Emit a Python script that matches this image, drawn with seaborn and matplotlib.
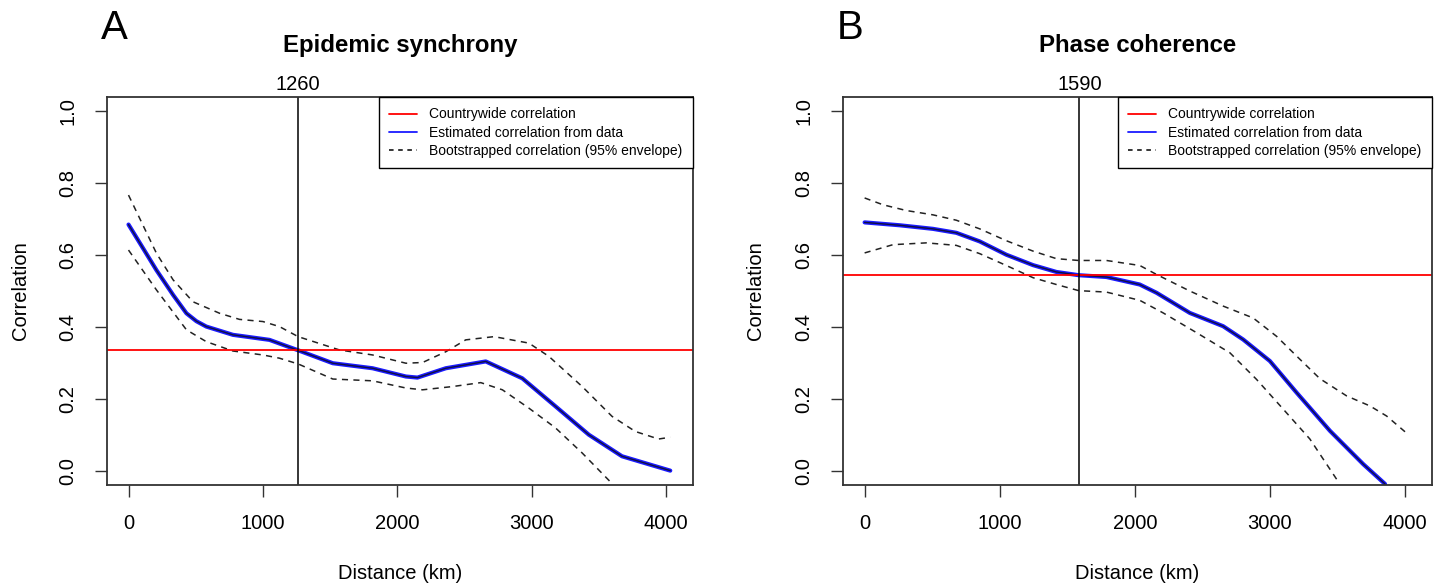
import pandas as pd
import seaborn as sns
import matplotlib
matplotlib.use('Agg')
import matplotlib.pyplot as plt
from matplotlib.lines import Line2D

# values
# Panel A - epidemic synchrony
a_est_x = [0, 208, 332, 431, 505, 579, 777, 1049, 1262, 1520, 1816, 2064, 2150, 2361, 2658, 2930, 3177, 3425,
           3672, 4031]
a_est_y = [0.685, 0.558, 0.489, 0.438, 0.416, 0.401, 0.378, 0.364, 0.335, 0.299, 0.285, 0.262, 0.259, 0.285,
           0.304, 0.257, 0.179, 0.100, 0.040, 0.0]
a_hi_x = [0, 208, 332, 480, 678, 826, 1000, 1123, 1262, 1569, 1816, 2064, 2188, 2361, 2509, 2720, 2979, 3128,
          3376, 3598, 3771, 3944, 4031]
a_hi_y = [0.767, 0.605, 0.531, 0.470, 0.438, 0.421, 0.415, 0.401, 0.373, 0.336, 0.322, 0.299, 0.301, 0.331,
          0.364, 0.373, 0.355, 0.318, 0.234, 0.151, 0.109, 0.088, 0.093]
a_lo_x = [0, 208, 431, 579, 777, 1000, 1123, 1262, 1520, 1816, 2064, 2188, 2410, 2621, 2782, 2979, 3177, 3376, 3598]
a_lo_y = [0.614, 0.503, 0.392, 0.359, 0.333, 0.322, 0.313, 0.297, 0.255, 0.250, 0.230, 0.225, 0.234, 0.245,
          0.225, 0.174, 0.119, 0.049, -0.036]
a_country = 0.335
a_cut = 1260

# Panel B - phase coherence
b_est_x = [0, 259, 506, 679, 852, 1049, 1247, 1420, 1585, 1790, 2037, 2161, 2407, 2654, 2802, 3000, 3198, 3444,
           3691, 3852]
b_est_y = [0.691, 0.683, 0.673, 0.662, 0.638, 0.601, 0.572, 0.553, 0.544, 0.539, 0.518, 0.495, 0.439, 0.402,
           0.365, 0.305, 0.217, 0.111, 0.018, -0.037]
b_hi_x = [0, 136, 309, 506, 679, 852, 1049, 1247, 1420, 1585, 1790, 2037, 2161, 2407, 2654, 2876, 3049, 3222,
          3370, 3568, 3741, 3864, 4007]
b_hi_y = [0.759, 0.740, 0.724, 0.712, 0.697, 0.673, 0.640, 0.611, 0.590, 0.585, 0.585, 0.571, 0.546, 0.500,
          0.458, 0.425, 0.374, 0.310, 0.256, 0.208, 0.180, 0.152, 0.106]
b_lo_x = [0, 210, 457, 679, 852, 1049, 1247, 1420, 1585, 1790, 2037, 2210, 2457, 2704, 2901, 3099, 3296, 3494]
b_lo_y = [0.606, 0.629, 0.634, 0.627, 0.604, 0.571, 0.537, 0.518, 0.501, 0.497, 0.474, 0.439, 0.384, 0.328,
          0.254, 0.171, 0.088, -0.024]
b_country = 0.544
b_cut = 1590

x_ticks = [0, 1000, 2000, 3000, 4000]
y_ticks = [0.0, 0.2, 0.4, 0.6, 0.8, 1.0]
legend_labels = ['Countrywide correlation', 'Estimated correlation from data',
                 'Bootstrapped correlation (95% envelope)']

sns.set_style('white')
plt.rcParams['font.family'] = ['Liberation Sans', 'DejaVu Sans']
plt.rcParams['text.color'] = 'black'
plt.rcParams['axes.labelcolor'] = 'black'
plt.rcParams['xtick.color'] = 'black'
plt.rcParams['ytick.color'] = 'black'

fig = plt.figure(figsize=(14.44, 5.84), dpi=100)
ax_a = fig.add_axes([0.0741, 0.1695, 0.4058, 0.6644])
ax_b = fig.add_axes([0.5838, 0.1695, 0.4079, 0.6644])

panels = [
    (ax_a, 'A', 'Epidemic synchrony', a_est_x, a_est_y, a_hi_x, a_hi_y, a_lo_x, a_lo_y, a_country, a_cut),
    (ax_b, 'B', 'Phase coherence', b_est_x, b_est_y, b_hi_x, b_hi_y, b_lo_x, b_lo_y, b_country, b_cut),
]

dash = (0, (4, 3.5))
edge = '#333333'

for ax, letter, title, ex, ey, hx, hy, lx, ly, country, cut in panels:
    est = pd.DataFrame({'Distance': ex, 'Correlation': ey})
    hi = pd.DataFrame({'Distance': hx, 'Correlation': hy})
    lo = pd.DataFrame({'Distance': lx, 'Correlation': ly})

    sns.lineplot(x='Distance', y='Correlation', data=hi, ax=ax, color='#222222', lw=1.1, linestyle=dash,
                 dash_joinstyle='round')
    sns.lineplot(x='Distance', y='Correlation', data=lo, ax=ax, color='#222222', lw=1.1, linestyle=dash,
                 dash_joinstyle='round')
    sns.lineplot(x='Distance', y='Correlation', data=est, ax=ax, color='#1a1aff', lw=3.0,
                 solid_joinstyle='round')
    sns.lineplot(x='Distance', y='Correlation', data=est, ax=ax, color='#101040', lw=1.0,
                 solid_joinstyle='round')
    ax.axhline(country, color='red', lw=1.3)
    ax.axvline(cut, color='black', lw=1.1)

    ax.set_xlim(-160, 4200)
    ax.set_ylim(-0.04, 1.04)
    ax.set_xticks(x_ticks)
    ax.set_xticklabels([str(t) for t in x_ticks])
    ax.set_yticks(y_ticks)
    ax.set_yticklabels(['%.1f' % t for t in y_ticks], rotation=90, va='center')
    ax.tick_params(axis='both', which='major', direction='out', length=8.6, width=1.0, color=edge,
                   labelsize=14.5, labelcolor='black', bottom=True, left=True, top=False, right=False)
    ax.tick_params(axis='x', pad=12)
    ax.tick_params(axis='y', pad=13)
    for s in ax.spines.values():
        s.set_color(edge)
        s.set_linewidth(1.3)

    ax.set_xlabel('Distance (km)', fontsize=14.5, va='center')
    ax.xaxis.set_label_coords(0.5, -0.227)
    ax.set_ylabel('Correlation', fontsize=14.5, va='center')
    ax.yaxis.set_label_coords(-0.148, 0.5)

    ax.text(0.5, 1.134, title, transform=ax.transAxes, ha='center', va='center',
            fontsize=17.3, fontweight='bold')
    ax.text(-0.01, 1.178, letter, transform=ax.transAxes, ha='left', va='center', fontsize=29)
    ax.text(cut, 1.031, str(cut), transform=ax.get_xaxis_transform(), ha='center', va='center',
            fontsize=14.5)

    handles = [Line2D([], [], color='red', lw=1.3),
               Line2D([], [], color='#1a1aff', lw=1.3),
               Line2D([], [], color='black', lw=1.1, linestyle=(0, (3, 3)))]
    leg = ax.legend(handles, legend_labels, loc='upper right', borderaxespad=0, fontsize=10,
                    fancybox=False, framealpha=1, edgecolor='black', handlelength=2.0,
                    handletextpad=0.9, labelspacing=0.3, borderpad=0.75)
    leg.get_frame().set_linewidth(1.0)

fig.savefig('out.png', dpi=100)
